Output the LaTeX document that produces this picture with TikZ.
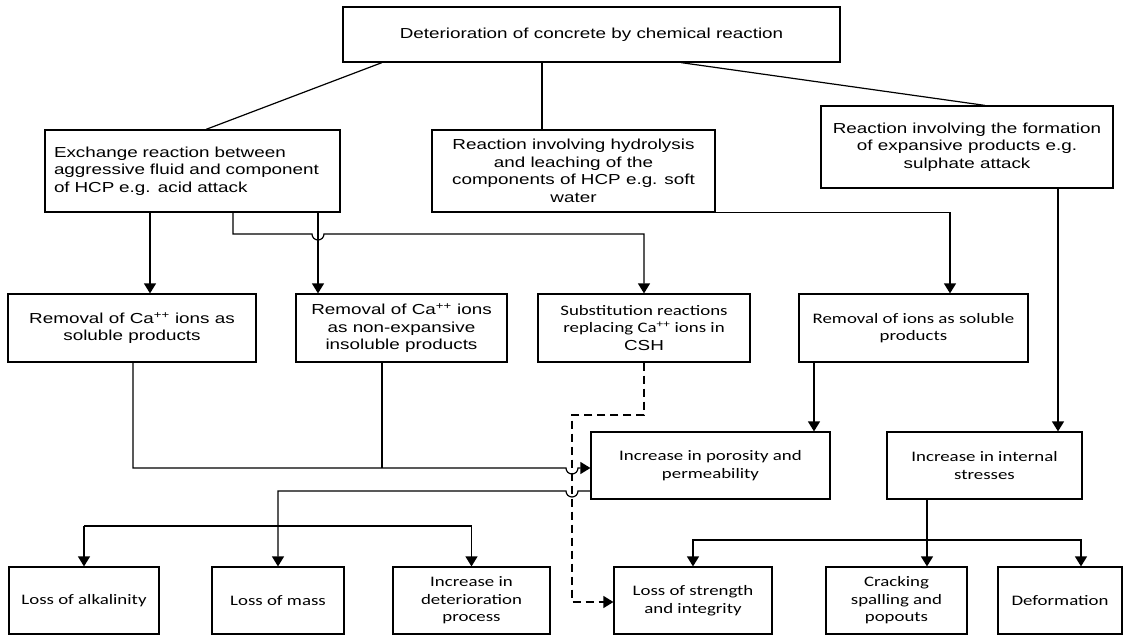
\documentclass[tikz,border=0pt]{standalone}
\usepackage{fontspec}
\usetikzlibrary{arrows.meta,calc}
\newfontfamily\arfont[FakeStretch=1.3]{Liberation Sans}
\newfontfamily\cafont[FakeStretch=1.3]{Carlito}
\begin{document}
\begin{tikzpicture}[x=1pt,y=-1pt,
  box/.style={draw,line width=1.2pt,inner sep=0pt,align=center},
  arbox/.style={box,font=\arfont\fontsize{14.5}{17.5}\selectfont},
  cabox/.style={box,font=\cafont\fontsize{14.5}{17.5}\selectfont},
  conn/.style={line width=1.2pt},
  arr/.style={conn,-{Triangle[width=12pt,length=10pt]}},
  dashline/.style={conn,dash pattern=on 8pt off 5pt}
]
\fill[white] (0,0) rectangle (1128,637);
\useasboundingbox (0,0) rectangle (1128,637);

% level 0 and 1
\node[arbox,minimum width=497pt,minimum height=55pt] (top) at (591.5,34.5) {Deterioration of concrete by chemical reaction};
\node[arbox,text width=277pt,inner xsep=9pt,minimum height=82pt,align=left] (exch) at (192.5,171) {Exchange reaction between\\aggressive fluid and component\\of HCP e.g. acid attack};
\node[arbox,minimum width=283pt,minimum height=82pt] (hydro) at (573.5,171) {Reaction involving hydrolysis\\and leaching of the\\components of HCP e.g. soft\\water};
\node[arbox,minimum width=292pt,minimum height=82pt] (form) at (967,147) {Reaction involving the formation\\of expansive products e.g.\\sulphate attack};

% level 2
\node[arbox,minimum width=248pt,minimum height=68pt] (b1) at (132,328) {Removal of Ca\textsuperscript{++} ions as\\soluble products};
\node[arbox,minimum width=211pt,minimum height=68pt] (b2) at (401.5,328) {Removal of Ca\textsuperscript{++} ions\\as non-expansive\\insoluble products};
\node[cabox,minimum width=212pt,minimum height=68pt] (b3) at (644,328) {Substitution reactions\\replacing Ca\textsuperscript{++} ions in\\{\arfont CSH}};
\node[cabox,minimum width=229pt,minimum height=68pt] (b4) at (913.5,328) {Removal of ions as soluble\\products};

% level 3
\node[cabox,minimum width=239pt,minimum height=67pt] (por) at (710.5,465.5) {Increase in porosity and\\permeability};
\node[cabox,minimum width=195pt,minimum height=67pt] (ist) at (984.5,465.5) {Increase in internal\\stresses};

% level 4
\node[cabox,minimum width=150pt,minimum height=67pt] (alk) at (84,600.5) {Loss of alkalinity};
\node[cabox,minimum width=132pt,minimum height=67pt] (mass) at (278,600.5) {Loss of mass};
\node[cabox,minimum width=157pt,minimum height=67pt] (det) at (471.5,600.5) {Increase in\\deterioration\\process};
\node[cabox,minimum width=158pt,minimum height=67pt] (str) at (693,600.5) {Loss of strength\\and integrity};
\node[cabox,minimum width=141pt,minimum height=67pt] (crk) at (896.5,600.5) {Cracking\\spalling and\\popouts};
\node[cabox,minimum width=124pt,minimum height=67pt] (def) at (1060,600.5) {Deformation};

% column / row helpers
\coordinate (t1) at (382,0);
\coordinate (t2) at (206,0);
\coordinate (t3) at (542,0);
\coordinate (t4) at (681,0);
\coordinate (t5) at (985,0);
\coordinate (cA) at (150,0);
\coordinate (cB) at (233,0);
\coordinate (cC) at (318,0);
\coordinate (cD) at (644,0);
\coordinate (cE) at (950,0);
\coordinate (cF) at (1058,0);
\coordinate (cG) at (814,0);
\coordinate (cH) at (133,0);
\coordinate (cI) at (382,0);
\coordinate (cJ) at (572,0);
\coordinate (cK) at (927,0);
\coordinate (cL) at (1081,0);
\coordinate (rA) at (0,234);
\coordinate (rB) at (0,468);
\coordinate (rC) at (0,491);
\coordinate (rD) at (0,526);
\coordinate (rE) at (0,540);
\coordinate (rF) at (0,415);
\coordinate (rG) at (0,602);

% top connectors
\draw[conn] (top.south -| t1) -- (exch.north -| t2);
\draw[conn] (top.south -| t3) -- (hydro.north -| t3);
\draw[conn] (top.south -| t4) -- (form.north -| t5);

% from exchange box
\draw[arr] (exch.south -| cA) -- (b1.north -| cA);
\draw[arr] (exch.south -| cC) -- (b2.north -| cC);
\draw[arr] (exch.south -| cB) -- (cB |- rA) -- ($(cC |- rA)+(-6,0)$)
  arc[start angle=180,end angle=360,radius=6pt] -- (cD |- rA) -- (b3.north -| cD);

% from hydrolysis box
\draw[arr] (hydro.south east) -- (cE |- hydro.south) -- (b4.north -| cE);

% from formation box
\draw[arr] (form.south -| cF) -- (ist.north -| cF);

% from removal of ions
\draw[arr] (b4.south -| cG) -- (por.north -| cG);

% into porosity
\draw[arr] (b1.south -| cH) -- (cH |- rB) -- ($(cJ |- rB)+(-6,0)$)
  arc[start angle=180,end angle=360,radius=6pt] -- (por.west |- rB);
\draw[conn] (b2.south -| cI) -- (cI |- rB);

% from porosity
\draw[arr] (por.west |- rC) -- ($(cJ |- rC)+(6,0)$)
  arc[start angle=0,end angle=-180,radius=6pt] -- (mass.north |- rC) -- (mass.north);
\draw[arr] (alk.north |- rD) -- (det.north |- rD) -- (det.north);
\draw[arr] (alk.north |- rD) -- (alk.north);

% from internal stresses
\draw[arr] (ist.south -| cK) -- (crk.north -| cK);
\draw[arr] (cK |- rE) -- (str.north |- rE) -- (str.north);
\draw[arr] (cK |- rE) -- (cL |- rE) -- (def.north -| cL);

% dashed connector
\draw[dashline,-{Triangle[width=12pt,length=10pt]}] (b3.south -| cD) -- (cD |- rF) -- (cJ |- rF) -- (cJ |- rG) -- (str.west |- rG);
\end{tikzpicture}
\end{document}
